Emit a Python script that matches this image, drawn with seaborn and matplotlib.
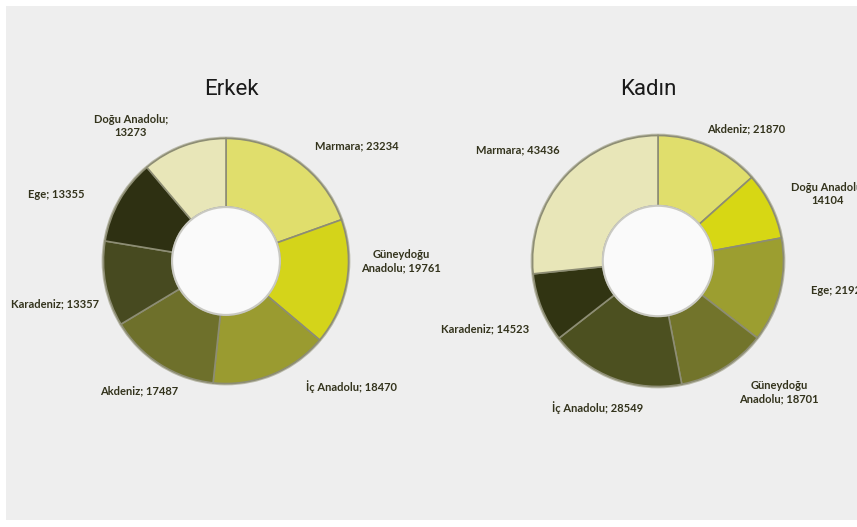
import numpy as np
import pandas as pd
import seaborn as sns
import matplotlib.pyplot as plt
from matplotlib.patches import Rectangle, Circle

sns.set_theme(style='white')
plt.rcParams['font.family'] = ['Lato', 'DejaVu Sans']

# Erkek (clockwise from top)
erkek_regions = ['Marmara', 'Güneydoğu\nAnadolu', 'İç Anadolu', 'Akdeniz', 'Karadeniz', 'Ege', 'Doğu Anadolu;\n']
erkek_values = [23234, 19761, 18470, 17487, 13357, 13355, 13273]
erkek_colors = ['#e0de6c', '#d4d41a', '#9a9b30', '#6e702b', '#474a20', '#2e3012', '#e8e6b8']

# Kadın (clockwise from top)
kadin_regions = ['Akdeniz', 'Doğu Anadolu;\n', 'Ege', 'Güneydoğu\nAnadolu', 'İç Anadolu', 'Karadeniz', 'Marmara']
kadin_values = [21870, 14104, 21925, 18701, 28549, 14523, 43436]
kadin_colors = ['#e0de6c', '#d7d714', '#9c9e30', '#72742b', '#4c5020', '#313412', '#e8e6b8']

W, H = 857, 527
fig = plt.figure(figsize=(W / 100, H / 100), dpi=100)
fig.patch.set_facecolor('white')
fig.patches.append(Rectangle((6 / W, 1 - 520 / H), 1, (520 - 6) / H,
                             transform=fig.transFigure, fc='#eeeeee', ec='none', zorder=-10))


def px(x, y):
    return x / W, 1 - y / H


def donut(cx, cy, r, values, colors, title, tx, ty, label_xy, regions):
    ax = fig.add_axes([(cx - r) / W, 1 - (cy + r) / H, 2 * r / W, 2 * r / H])
    # soft rim shadow behind the ring
    ax.pie([1], colors=['#b9b9a8'], radius=1.015, wedgeprops=dict(width=0.59, linewidth=0))
    ax.pie(values, colors=colors, startangle=90, counterclock=False, radius=1,
           wedgeprops=dict(width=0.56, edgecolor='#8d8d74', linewidth=1.2))
    ax.add_patch(Circle((0, 0), 0.44, fc='#fafafa', ec='#c9c9c2', lw=1.5, zorder=5))
    ax.set_xlim(-1.02, 1.02)
    ax.set_ylim(-1.02, 1.02)
    ax.set_aspect('equal')
    ax.axis('off')
    fig.text(*px(tx, ty), title, ha='center', va='center', fontsize=16,
             family=['Roboto', 'DejaVu Sans'], color='#1a1a1a')
    for reg, val, (lx, ly) in zip(regions, values, label_xy):
        sep = '' if reg.endswith('\n') else '; '
        fig.text(*px(lx, ly), f'{reg}{sep}{val}', ha='center', va='center',
                 fontsize=8, fontweight='bold', color='#33331c', linespacing=1.25)


erkek_label_xy = [(357, 146), (401, 261), (351, 387), (139, 391), (55, 304), (56, 195), (131, 126)]
kadin_label_xy = [(746, 129), (828, 194), (839, 291), (779, 392), (598, 408), (485, 329), (518, 150)]

donut(226, 261, 125, erkek_values, erkek_colors, 'Erkek', 231, 89, erkek_label_xy, erkek_regions)
donut(658, 261, 128, kadin_values, kadin_colors, 'Kadın', 648, 89, kadin_label_xy, kadin_regions)

fig.savefig('out.png', dpi=100)
